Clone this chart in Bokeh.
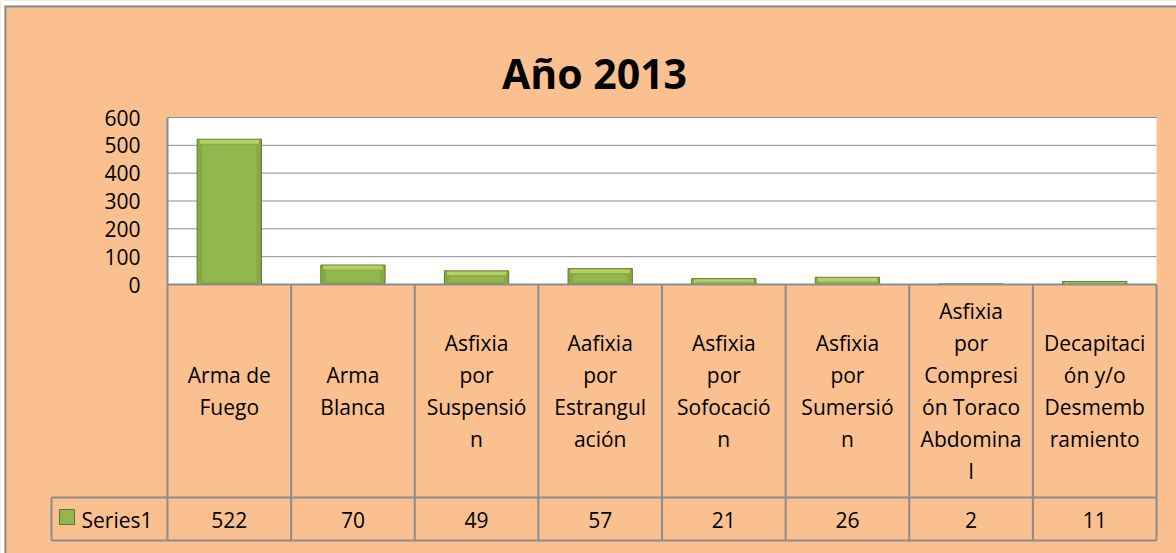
from bokeh.plotting import figure
from bokeh.models import Range1d, LinearAxis, FixedTicker
from bokeh.core.properties import value
from bokeh.embed import file_html
from bokeh.resources import INLINE

# ---- data ----
title_text = "Año 2013"
categories = ["Arma de Fuego", "Arma Blanca", "Asfixia por Suspensión", "Aafixia por Estrangulación",
              "Asfixia por Sofocación", "Asfixia por Sumersión",
              "Asfixia por Compresión Toraco Abdominal", "Decapitación y/o Desmembramiento"]
category_labels = ["Arma de\nFuego", "Arma\nBlanca", "Asfixia\npor\nSuspensió\nn", "Aafixia\npor\nEstrangul\nación",
                   "Asfixia\npor\nSofocació\nn", "Asfixia\npor\nSumersió\nn",
                   "Asfixia\npor\nCompresi\nón Toraco\nAbdomina\nl", "Decapitaci\nón y/o\nDesmemb\nramiento"]
series_name = "Series1"
values = [522, 70, 49, 57, 21, 26, 2, 11]
y_ticks = [0, 100, 200, 300, 400, 500, 600]

# ---- layout helpers (pixel -> data) ----
X0, XW = 167.0, 123.625       # plot-area left edge, px per category
Y0, YS = 284.0, 167.0 / 600   # zero line, px per unit
def dx(px): return (px - X0) / XW
def dy(py): return (Y0 - py) / YS

PEACH = "#FAC090"
GREY = "#8C8C8C"
FONT = value("Open Sans")

p = figure(width=1176, height=553, min_border=0, x_axis_type=None, y_axis_type=None,
           toolbar_location=None, output_backend="svg",
           x_range=Range1d(dx(0), dx(1176)), y_range=Range1d(dy(553), dy(0)))
p.outline_line_color = None
p.background_fill_color = PEACH
p.border_fill_color = PEACH

n = len(values)
xs = [i + 0.5 for i in range(n)]

# white margin + chart border (top, left)
p.quad(left=[dx(0)], right=[dx(4)], bottom=[dy(553)], top=[dy(0)], fill_color="white", line_color=None)
p.quad(left=[dx(0)], right=[dx(1176)], bottom=[dy(5)], top=[dy(0)], fill_color="white", line_color=None)
p.segment(x0=[dx(5)], y0=[dy(553)], x1=[dx(5)], y1=[dy(6)], line_color=GREY, line_width=2)
p.segment(x0=[dx(4)], y0=[dy(6)], x1=[dx(1176)], y1=[dy(6)], line_color=GREY, line_width=2)

# plot area
p.quad(left=[0], right=[n], bottom=[0], top=[max(y_ticks)], fill_color="white", line_color=None)
gt = [t for t in y_ticks if t > 0]
p.segment(x0=[0] * len(gt), y0=gt, x1=[n] * len(gt), y1=gt, line_color=GREY, line_width=1)

# bars (with a simple bevel look)
p.vbar(x=xs, top=values, bottom=0, width=0.52, fill_color="#86A845", line_color="#5E7A28", line_width=1)
strip = [v - min(v, 16) for v in values]
p.vbar(x=xs, top=[v - 2 for v in values], bottom=[max(s, 0) for s in strip], width=0.48,
       fill_color="#B8D86C", line_color=None, fill_alpha=0.85)
p.vbar(x=xs, top=[v - min(v, 20) for v in values], bottom=[min(v, 10) for v in values], width=0.44,
       fill_color="#93B74F", line_color=None)

# y axis
yax = LinearAxis(fixed_location=0, bounds=(0, 600), ticker=FixedTicker(ticks=y_ticks))
yax.axis_line_color = None
yax.major_tick_line_color = None
yax.minor_tick_line_color = None
yax.major_tick_out = 0
yax.major_tick_in = 0
yax.major_label_standoff = 27
yax.major_label_text_font = "Open Sans"
yax.major_label_text_font_size = "21px"
yax.major_label_text_color = "black"
p.add_layout(yax, "left")

# plot area left edge and zero line
p.segment(x0=[0], y0=[0], x1=[0], y1=[max(y_ticks)], line_color=GREY, line_width=2)

# data table lines
p.segment(x0=list(range(n + 1)), y0=[0] * (n + 1), x1=list(range(n + 1)), y1=[dy(540)] * (n + 1),
          line_color=GREY, line_width=2)
p.segment(x0=[0, dx(51), dx(51), dx(51)], y0=[0, dy(497), dy(540), dy(497)],
          x1=[n, n, n, dx(51)], y1=[0, dy(497), dy(540), dy(540)], line_color=GREY, line_width=2)

# table texts
p.text(x=xs, y=[dy(390.5)] * n, text=category_labels, text_align="center", text_baseline="middle",
       text_font=FONT, text_font_size="21px", text_line_height=1.14, text_color="black")
p.text(x=xs, y=[dy(519)] * n, text=[str(v) for v in values], text_align="center", text_baseline="middle",
       text_font=FONT, text_font_size="21px", text_color="black")
p.quad(left=[dx(59)], right=[dx(74)], bottom=[dy(524)], top=[dy(509)], fill_color="#93B74F", line_color="#5E7A28")
p.text(x=[dx(81)], y=[dy(519)], text=[series_name], text_align="left", text_baseline="middle",
       text_font=FONT, text_font_size="21px", text_color="black")

# title
p.text(x=[dx(594)], y=[dy(72)], text=[title_text], text_align="center",
       text_baseline="alphabetic", text_font=FONT, text_font_size="41px", text_font_style="bold",
       text_color="black")

open("out.html", "w").write(file_html(p, INLINE))
